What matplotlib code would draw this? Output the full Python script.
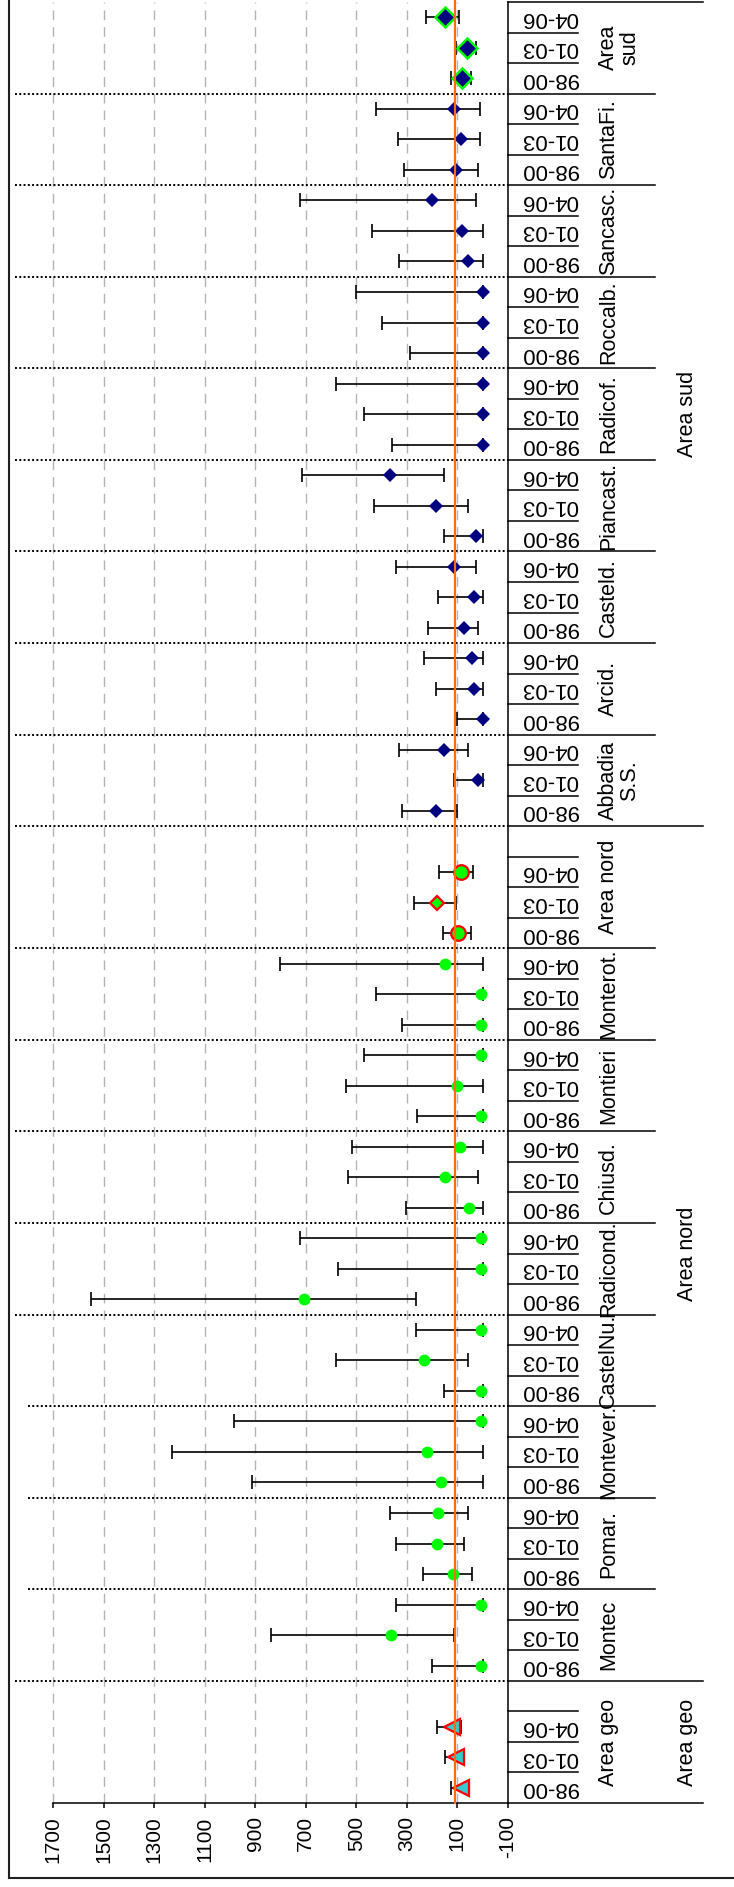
"""
Indici per comune e periodo con intervallo min-max (grafico ruotato)
"""
import matplotlib
matplotlib.use('Agg')
import matplotlib.pyplot as plt
import matplotlib.transforms as mtransforms
import matplotlib.font_manager as fm
from matplotlib.lines import Line2D

# testo stretto come nell'originale, se il font c'e'
nomi_font = {f.name for f in fm.fontManager.ttflist}
if 'Liberation Sans Narrow' in nomi_font:
    plt.rcParams['font.family'] = ['Liberation Sans Narrow', 'DejaVu Sans']
    fs_tick, fs_per, fs_lab = 18, 19.5, 18
else:
    plt.rcParams['font.family'] = ['Liberation Sans', 'DejaVu Sans']
    fs_tick, fs_per, fs_lab = 15, 16, 15.5

# dati
periodi = ['98-00', '01-03', '04-06']
comuni = ['Area geo', 'Montec', 'Pomar.', 'Montever.', 'CastelNu.', 'Radicond.',
          'Chiusd.', 'Montieri', 'Monterot.', 'Area nord', 'Abbadia\nS.S.',
          'Arcid.', 'Casteld.', 'Piancast.', 'Radicof.', 'Roccalb.', 'Sancasc.',
          'SantaFi.', 'Area\nsud']
aree = ['Area geo', 'Area nord', 'Area sud']
area_comune = [0, 1, 1, 1, 1, 1, 1, 1, 1, 1, 2, 2, 2, 2, 2, 2, 2, 2, 2]

valore = [[84, 106, 120], [5, 364, 5], [119, 180, 175], [165, 221, 5],
          [5, 230, 5], [709, 5, 5], [54, 149, 91], [5, 100, 5], [5, 5, 149],
          [98, 180, 86], [184, 17, 152], [0, 32, 41], [73, 32, 113],
          [24, 184, 368], [0, 0, 0], [0, 0, 0], [58, 80, 201], [104, 86, 113],
          [83, 62, 150]]
minimo = [[60, 80, 84], [0, 113, 0], [41, 73, 58], [0, 0, 0], [0, 58, 0],
          [264, 0, 0], [0, 17, 0], [0, 0, 0], [0, 0, 0], [47, 106, 37],
          [100, 0, 58], [0, 0, 0], [17, 0, 24], [0, 58, 152], [0, 0, 0],
          [0, 0, 0], [0, 0, 24], [17, 10, 10], [47, 26, 93]]
massimo = [[123, 149, 180], [202, 837, 342], [234, 342, 366], [913, 1231, 986],
           [152, 581, 264], [1552, 574, 724], [305, 533, 518], [258, 542, 470],
           [319, 423, 802], [157, 270, 173], [319, 113, 329], [100, 184, 232],
           [217, 177, 342], [152, 429, 717], [358, 470, 581], [286, 397, 500],
           [329, 438, 724], [312, 336, 423], [126, 106, 223]]
riferimento = 108
tick_valori = [1700, 1500, 1300, 1100, 900, 700, 500, 300, 100, -100]

# gruppi di riepilogo con una posizione vuota dopo
vuoto_dopo = {'Area geo', 'Area nord'}

W, H = 734, 1887
fig = plt.figure(figsize=(W / 100, H / 100), dpi=100)
ax = fig.add_axes([10 / W, 1 - 1803 / H, 497.8 / W, 1801 / H])

# posizioni delle categorie dal basso verso l'alto
pos = []
inizio = []
n = 0
for c in comuni:
    inizio.append(n)
    pos.append([n + i + 0.5 for i in range(len(periodi))])
    n += len(periodi) + (1 if c in vuoto_dopo else 0)
fine = inizio[1:] + [n]

ax.set_xlim(1871.5, -100)
ax.set_ylim(0, n)


def stile(g, p):
    nome = comuni[g]
    if nome == 'Area geo':
        return dict(marker='<', ms=12, mfc='#33cccc', mec='red', mew=1.6)
    if nome == 'Area nord':
        if p == 1:
            return dict(marker='D', ms=7.5, mfc='#00ff00', mec='red', mew=1.6)
        return dict(marker='o', ms=10.5, mfc='#00ff00', mec='red', mew=1.6)
    if nome == 'Area\nsud':
        return dict(marker='D', ms=10, mfc='#000080', mec='#00ff00', mew=1.8)
    if area_comune[g] == 1:
        return dict(marker='o', ms=8.5, mfc='#00ff00', mec='#00ff00', mew=0)
    return dict(marker='D', ms=6.8, mfc='#000080', mec='#000080', mew=0)


# griglia
for v in tick_valori[:-1]:
    ax.plot([v, v], [0, n], color='#b4b4b4', lw=1, ls=(0, (7, 5)), zorder=0)

# separatori punteggiati tra i comuni
for k in inizio[1:]:
    x0 = 1800 if k in (7, 10, 13) else 1850
    ax.plot([x0, -100], [k, k], color='black', lw=1.4, ls=(0, (1, 1.2)), zorder=1)

for g in range(len(comuni)):
    for p in range(len(periodi)):
        v = valore[g][p]
        y = pos[g][p]
        ax.errorbar(v, y, xerr=[[v - minimo[g][p]], [massimo[g][p] - v]],
                    fmt='none', ecolor='black', elinewidth=1.2, capsize=5,
                    capthick=1.2, zorder=3)
        ax.plot(v, y, ls='none', zorder=4, **stile(g, p))

ax.plot([riferimento, riferimento], [0, n + 0.1], color='#ff6a13', lw=1.6,
        zorder=6, clip_on=False)

# assi
for s in ['top', 'left']:
    ax.spines[s].set_visible(False)
ax.spines['right'].set_linewidth(1.1)
ax.spines['bottom'].set_linewidth(1.1)
ax.spines['bottom'].set_bounds(-100, 1700)
ax.set_yticks([])
ax.set_xticks(tick_valori)
ax.set_xticklabels([str(v) for v in tick_valori], rotation=90, fontsize=fs_tick)
ax.tick_params(axis='x', direction='out', length=3.6, width=1.1, pad=6)

# etichette di categoria a destra
tr = mtransforms.blended_transform_factory(ax.transAxes, ax.transData)


def fx(px):
    return (px - 10) / 497.8


for g, c in enumerate(comuni):
    for p, lab in enumerate(periodi):
        ax.text(fx(550), pos[g][p], lab, transform=tr, rotation=180,
                ha='center', va='center', fontsize=fs_per)
    ax.text(fx(598), (inizio[g] + fine[g]) / 2, c, transform=tr, rotation=90,
            ha='left', va='center', fontsize=fs_lab, multialignment='center',
            linespacing=1.0)

limiti_area = [0]
for a in range(len(aree)):
    gs = [g for g in range(len(comuni)) if area_comune[g] == a]
    limiti_area.append(fine[gs[-1]])
    ax.text(fx(677), (inizio[gs[0]] + fine[gs[-1]]) / 2, aree[a], transform=tr,
            rotation=90, ha='left', va='center', fontsize=fs_lab)

for k in range(n + 1):
    if k in limiti_area:
        x1 = 703
    elif k in inizio:
        x1 = 655
    else:
        x1 = 578
    ax.plot([1, fx(x1)], [k, k], transform=tr, color='black', lw=1.1,
            clip_on=False)

# cornice
fig.add_artist(Line2D([9.3 / W, 9.3 / W], [1 - 1878 / H, 1], color='#202020', lw=1.5))
fig.add_artist(Line2D([9.3 / W, 1], [1 - 1878 / H, 1 - 1878 / H], color='#202020', lw=1.5))

fig.savefig('out.png', dpi=100)
plt.close(fig)
